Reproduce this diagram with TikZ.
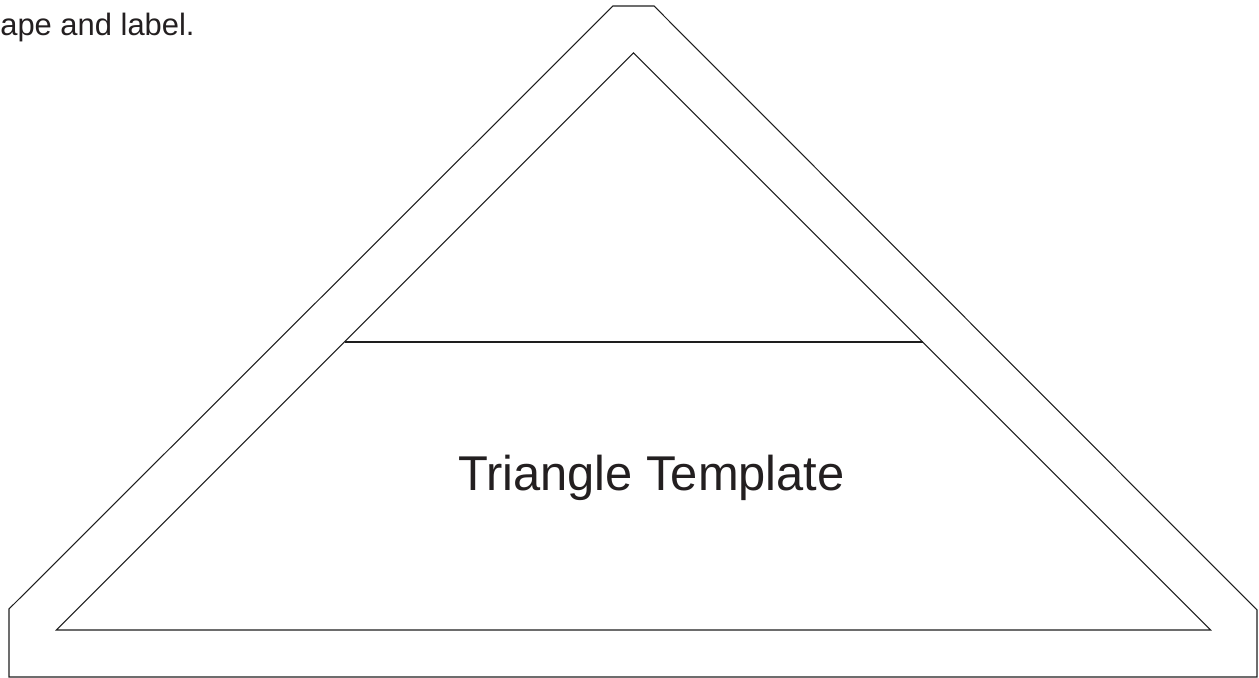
\documentclass[tikz,border=0pt]{standalone}
\usepackage{fontspec}
\setmainfont{Liberation Sans}
\usetikzlibrary{positioning, calc}
\definecolor{tplLine}{RGB}{30,30,30}
\definecolor{tplText}{RGB}{35,31,32}

\begin{document}
\begin{tikzpicture}[x=0.02cm, y=0.02cm,
    tplEdge/.style={line width=0.6pt, draw=tplLine, line join=miter},
    tplLabel/.style={inner sep=0pt, anchor=base, text=tplText}]
  \def\Cx{633.5}   % centre line
  \def\Base{48}    % base of the inner triangle
  \def\Apex{625}   % apex of the inner triangle
  \def\Cut{336}    % height of the dividing line

  \useasboundingbox (0,0) rectangle (1259,678);

  % ---- Outer border (cut-off triangle) ----
  \draw[tplEdge]
    (9,1) -- (9,69) -- (613,672) -- (654,672) --
    (1257,68) -- (1257,1) -- cycle;

  % ---- Inner triangle ----
  \draw[tplEdge]
    ({\Cx-(\Apex-\Base)},\Base) -- ({\Cx+(\Apex-\Base)},\Base) --
    (\Cx,\Apex) -- cycle;

  % ---- Dividing line ----
  \draw[tplEdge]
    ({\Cx-(\Apex-\Cut)},\Cut) -- ({\Cx+(\Apex-\Cut)},\Cut);

  % ---- Labels ----
  \node[tplLabel, font=\fontsize{27.8}{33}\selectfont] (title) at (651.5,187)
    {Triangle Template};
  \node[tplLabel, anchor=base west, font=\fontsize{17.6}{21}\selectfont]
    (hint) at (0,642) {ape and label.};
\end{tikzpicture}
\end{document}
